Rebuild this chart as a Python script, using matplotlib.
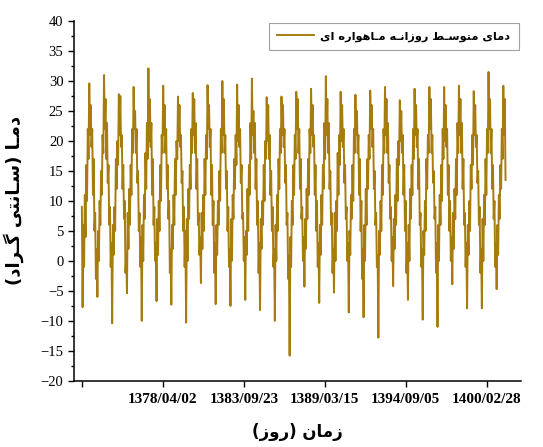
import numpy as np
import matplotlib
matplotlib.use("Agg")
import matplotlib.pyplot as plt
from matplotlib.ticker import MultipleLocator

# daily mean satellite temperature (~20 samples per year, start 1372/10/11)
t1994 = [9, -7.7, 6, -1, 11, 4, 16, 10, 22, 17, 29.6, 21, 26, 19, 22, 11, 17, 5, 8, -3]
t1995 = [2, -6.0, 5, 0, 10, 6, 15, 11, 21, 18, 31.0, 22, 27, 17, 23, 13, 16, 6, 9, -1]
t1996 = [3, -10.4, 6, 1, 9, 5, 17, 12, 20, 16, 27.8, 21, 27.5, 19, 21, 12, 16, 7, 10, -2]
t1997 = [1, -5.4, 8, 2, 12, 6, 16, 11, 22, 18, 29.0, 22, 25, 18, 22, 13, 15, 5, 8, -1]
t1998 = [4, -10.0, 6, 0, 11, 7, 18, 12, 23, 17, 32.1, 20, 27, 19, 23, 11, 17, 6, 9, 0]
t1999 = [3, -6.7, 7, 1, 10, 5, 16, 10, 21, 18, 29.2, 21, 26, 18, 22, 12, 16, 7, 10, -2]
t2000 = [2, -7.3, 6, 2, 11, 6, 17, 11, 20, 17, 27.4, 20, 26, 19, 21, 13, 15, 5, 9, -1]
t2001 = [5, -10.3, 7, 0, 12, 7, 16, 12, 22, 18, 28.0, 21, 27, 18, 23, 12, 17, 6, 8, 1]
t2002 = [4, -3.7, 8, 2, 11, 5, 17, 11, 21, 17, 29.3, 22, 26, 19, 22, 11, 16, 6, 10, -2]
t2003 = [3, -7.2, 6, 1, 10, 6, 15, 10, 22, 18, 30.0, 21, 27, 18, 21, 12, 15, 5, 9, -1]
t2004 = [2, -7.5, 7, 0, 11, 7, 17, 12, 21, 16, 29.4, 20, 26, 19, 22, 13, 16, 7, 8, 0]
t2005 = [4, -6.5, 5, 1, 12, 5, 16, 11, 23, 17, 30.4, 21, 25, 18, 23, 12, 17, 6, 10, -2]
t2006 = [3, -8.2, 7, 2, 10, 6, 16, 10, 20, 17, 27.3, 20, 26, 17, 21, 11, 15, 5, 9, -1]
t2007 = [2, -10.0, 6, 0, 11, 5, 17, 12, 22, 18, 27.4, 21, 26, 19, 22, 13, 16, 6, 8, -3]
t2008 = [1, -15.8, 4, -1, 10, 6, 16, 11, 21, 17, 28.2, 22, 27, 18, 22, 12, 17, 7, 9, 0]
t2009 = [4, -4.3, 7, 2, 12, 7, 17, 11, 22, 18, 28.7, 21, 26, 19, 21, 11, 16, 5, 10, -1]
t2010 = [3, -7.0, 6, 1, 11, 6, 16, 12, 23, 17, 30.8, 21, 27, 18, 23, 12, 15, 6, 8, -2]
t2011 = [2, -5.3, 8, 0, 10, 5, 18, 11, 21, 16, 28.2, 20, 26, 19, 22, 13, 16, 7, 9, 0]
t2012 = [3, -8.6, 5, 1, 11, 7, 16, 10, 22, 18, 27.7, 21, 25, 18, 21, 11, 17, 5, 10, -3]
t2013 = [2, -9.4, 6, 0, 12, 6, 17, 12, 21, 17, 28.4, 22, 26, 19, 22, 12, 15, 6, 8, -1]
t2014 = [1, -12.8, 5, 1, 10, 5, 16, 11, 22, 18, 29.0, 21, 27, 18, 23, 13, 16, 7, 9, 0]
t2015 = [4, -4.2, 7, 2, 11, 6, 17, 10, 20, 16, 26.8, 20, 25, 18, 21, 11, 16, 5, 10, -2]
t2016 = [3, -6.5, 6, 0, 12, 7, 16, 11, 22, 17, 28.7, 21, 26, 19, 22, 12, 17, 6, 8, -1]
t2017 = [2, -9.8, 5, 1, 10, 5, 17, 12, 21, 18, 29.0, 22, 27, 18, 21, 13, 15, 7, 9, -2]
t2018 = [3, -11.0, 6, 0, 11, 6, 16, 10, 22, 17, 29.0, 20, 26, 19, 22, 11, 16, 5, 10, 0]
t2019 = [4, -3.9, 8, 2, 12, 7, 17, 11, 23, 18, 29.2, 21, 27, 18, 23, 12, 17, 6, 8, -1]
t2020 = [3, -7.9, 6, 1, 10, 5, 16, 12, 21, 16, 28.3, 21, 26, 19, 21, 13, 15, 6, 9, -2]
t2021 = [2, -7.9, 7, 0, 11, 6, 17, 11, 22, 18, 31.5, 22, 27, 18, 22, 12, 16, 7, 10, -1]
t2022 = [3, -4.7, 6, 1, 11, 7, 16, 12, 22, 17, 29.2, 21, 27, 13.5]

tick_days = [0, 2000, 4000, 6000, 8000, 10000]
tick_labels = ['', '1378/04/02', '1383/09/23', '1389/03/15', '1394/09/05', '1400/02/28']

legend_text = 'دمای متوسـط روزانـه مـاهواره ای'
ylabel_text = 'دمـا (سـانتی گـراد)'
xlabel_text = 'زمان (روز)'

# matplotlib does no arabic shaping -> pick presentation forms by hand, then reverse
FORMS = {
    'ا': ('\uFE8D', '\uFE8E', None, None),
    'د': ('\uFEA9', '\uFEAA', None, None),
    'ر': ('\uFEAD', '\uFEAE', None, None),
    'ز': ('\uFEAF', '\uFEB0', None, None),
    'و': ('\uFEED', '\uFEEE', None, None),
    'ت': ('\uFE95', '\uFE96', '\uFE97', '\uFE98'),
    'س': ('\uFEB1', '\uFEB2', '\uFEB3', '\uFEB4'),
    'ط': ('\uFEC1', '\uFEC2', '\uFEC3', '\uFEC4'),
    'م': ('\uFEE1', '\uFEE2', '\uFEE3', '\uFEE4'),
    'ن': ('\uFEE5', '\uFEE6', '\uFEE7', '\uFEE8'),
    'ه': ('\uFEE9', '\uFEEA', '\uFEEB', '\uFEEC'),
    'ی': ('\uFBFC', '\uFBFD', '\uFBFE', '\uFBFF'),
    'گ': ('\uFB92', '\uFB93', '\uFB94', '\uFB95'),
}
TATWEEL = '\u0640'


def dual(c):
    return c == TATWEEL or (c in FORMS and FORMS[c][2] is not None)


def joins(c):
    return c == TATWEEL or c in FORMS


def fa(s):
    out = []
    for i, c in enumerate(s):
        if c not in FORMS:
            out.append(c)
            continue
        jp = i > 0 and dual(s[i - 1])
        jn = FORMS[c][2] is not None and i + 1 < len(s) and joins(s[i + 1])
        iso, fin, ini, med = FORMS[c]
        if jp and jn:
            out.append(med)
        elif jp:
            out.append(fin)
        elif jn:
            out.append(ini)
        else:
            out.append(iso)
    vis = ''.join(reversed(out))
    return vis.translate(str.maketrans('()', ')('))


temps = np.array(t1994 + t1995 + t1996 + t1997 + t1998 + t1999 + t2000 + t2001 + t2002 + t2003
                 + t2004 + t2005 + t2006 + t2007 + t2008 + t2009 + t2010 + t2011 + t2012 + t2013
                 + t2014 + t2015 + t2016 + t2017 + t2018 + t2019 + t2020 + t2021 + t2022)
days = np.arange(len(temps)) * 365.25 / 20

line_color = '#a67c0e'
fa_font = ['DejaVu Sans']

fig = plt.figure(figsize=(5.43, 4.47), dpi=100)
ax = fig.add_axes([0.136, 0.148, 0.823, 0.805])

ax.plot(days, temps, color=line_color, lw=1.4, label=fa(legend_text))

ax.set_xlim(-198, 10840)
ax.set_ylim(-20, 40)
ax.set_xticks(tick_days)
ax.set_xticklabels(tick_labels, fontfamily='Liberation Serif', fontweight='bold', fontsize=11)
ax.yaxis.set_major_locator(MultipleLocator(5))
ax.yaxis.set_minor_locator(MultipleLocator(2.5))
for lab in ax.get_yticklabels():
    lab.set_fontfamily('Liberation Serif')
    lab.set_fontsize(10.5)
ax.tick_params(axis='both', which='major', direction='out', length=4, width=1, color='black')
ax.tick_params(axis='y', which='minor', direction='out', length=2.5, width=1)
ax.tick_params(axis='x', pad=5)

for side in ['top', 'right']:
    ax.spines[side].set_visible(False)
for side in ['left', 'bottom']:
    ax.spines[side].set_linewidth(1.1)

ax.set_ylabel(fa(ylabel_text), family=fa_font, fontweight='bold', fontsize=13, labelpad=12)
ax.set_xlabel(fa(xlabel_text), family=fa_font, fontweight='bold', fontsize=12, labelpad=12)

leg = ax.legend(loc='upper right', bbox_to_anchor=(0.996, 0.995), borderaxespad=0,
                fancybox=False, edgecolor='#888888', handlelength=3.2, borderpad=0.75,
                handletextpad=0.6, prop={'family': fa_font, 'weight': 'bold', 'size': 8.2})
leg.get_frame().set_linewidth(0.8)

fig.savefig('out.png', dpi=100)
